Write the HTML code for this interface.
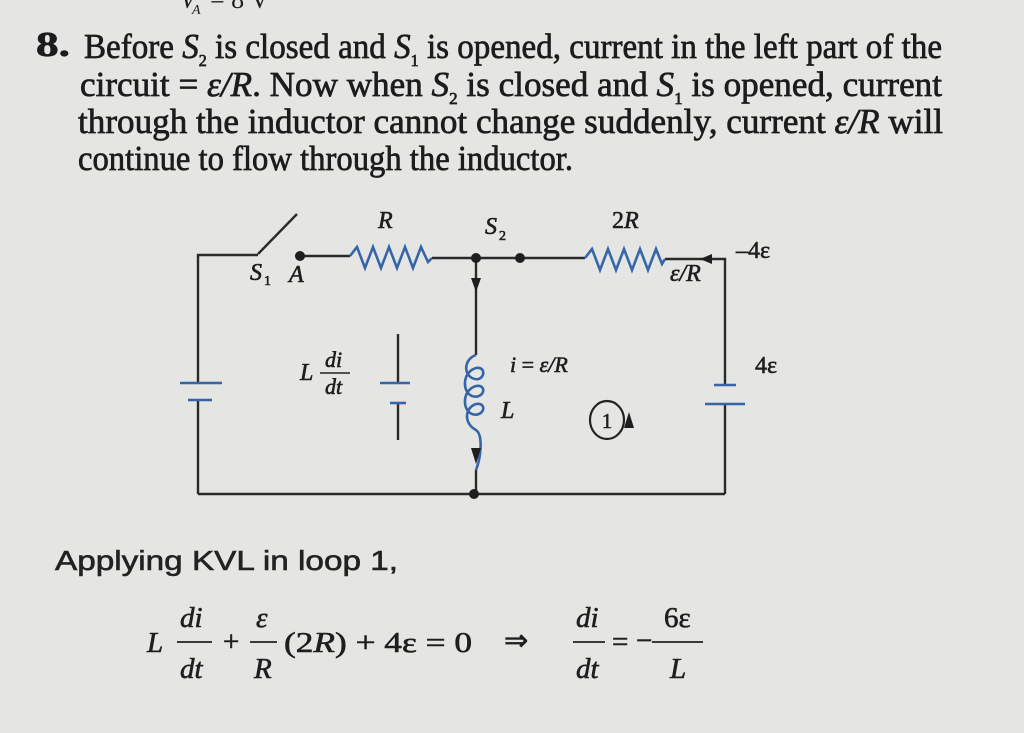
<!DOCTYPE html>
<html><head><meta charset="utf-8"><style>
html,body{margin:0;padding:0;background:#e5e5e3;}
svg{display:block}
</style></head><body>
<svg width="1024" height="733" viewBox="0 0 1024 733" xmlns="http://www.w3.org/2000/svg" font-family="Liberation Serif, serif" fill="#1e1e1e">
<rect width="1024" height="733" fill="#e5e5e3"/>
<!-- cut-off top line -->
<text x="180" y="8" font-size="26" font-style="italic">V</text>
<text x="192" y="14" font-size="14" font-style="italic">A</text>
<text x="210" y="8" font-size="26">= 8 V</text>
<!-- paragraph -->
<g font-size="35" fill="#1c1c1c" stroke="#1c1c1c" stroke-width="0.7">
<text x="36" y="56" textLength="34" lengthAdjust="spacingAndGlyphs" font-weight="bold">8.</text>
<text x="84" y="58" textLength="858" lengthAdjust="spacingAndGlyphs">Before <tspan font-style="italic">S</tspan><tspan font-size="17" dy="8">2</tspan><tspan dy="-8"> is closed and </tspan><tspan font-style="italic">S</tspan><tspan font-size="17" dy="8">1</tspan><tspan dy="-8"> is opened, current in the left part of the</tspan></text>
<text x="80" y="96" textLength="862" lengthAdjust="spacingAndGlyphs">circuit = <tspan font-style="italic">ε/R</tspan>. Now when <tspan font-style="italic">S</tspan><tspan font-size="17" dy="8">2</tspan><tspan dy="-8"> is closed and </tspan><tspan font-style="italic">S</tspan><tspan font-size="17" dy="8">1</tspan><tspan dy="-8"> is opened, current</tspan></text>
<text x="78" y="133" textLength="865" lengthAdjust="spacingAndGlyphs">through the inductor cannot change suddenly, current <tspan font-style="italic">ε/R</tspan> will</text>
<text x="78" y="170" textLength="495" lengthAdjust="spacingAndGlyphs">continue to flow through the inductor.</text>
</g>
<!-- circuit wires -->
<g stroke="#2a2a2a" stroke-width="2.4" fill="none">
<polyline points="258,255 198,255 198,383"/>
<line x1="297" y1="214" x2="258" y2="254"/>
<line x1="198" y1="400" x2="198" y2="494"/>
<polyline points="300,256 350,256"/>
<polyline points="432,258 476,258 520,258 585,258"/>
<polyline points="665,259 725,259 725,384"/>
<line x1="725" y1="404" x2="725" y2="494"/>
<line x1="198" y1="494" x2="725" y2="494"/>
<line x1="476" y1="258" x2="476" y2="355"/>
<line x1="476" y1="470" x2="476" y2="494"/>
<line x1="398" y1="334" x2="398" y2="383"/>
<line x1="398" y1="403" x2="398" y2="440"/>
</g>
<!-- blue components -->
<g stroke="#3565a8" stroke-width="2.6" fill="none">
<polyline points="350,256 357,247 365,268 373,247 381,268 389,247 397,268 405,247 413,268 421,247 428,262 432,258"/>
<polyline points="585,258 592,249 600,270 608,249 616,270 624,249 632,270 640,249 648,270 656,249 662,264 665,259"/>
<path d="M476,355 C466,358 462,372 472,378 C484,384 488,366 476,368 C462,372 462,392 472,396 C484,400 488,384 476,386 C462,390 462,410 472,414 C484,418 488,402 476,404 C464,408 464,424 476,430 C484,436 480,460 476,470"/>
<line x1="180" y1="383" x2="222" y2="383"/><line x1="188" y1="400" x2="212" y2="400"/>
<line x1="380" y1="383" x2="410" y2="383"/><line x1="390" y1="403" x2="406" y2="403"/>
<line x1="714" y1="385" x2="736" y2="385"/><line x1="705" y1="404" x2="745" y2="404"/>
</g>
<!-- dots & arrows -->
<g fill="#1e1e1e">
<circle cx="300" cy="256" r="5"/><circle cx="476" cy="258" r="5"/><circle cx="520" cy="258" r="5"/><circle cx="474" cy="494" r="5"/>
<polygon points="471,278 481,278 476,292"/>
<polygon points="471,448 481,448 476,464"/>
<polygon points="700,259 712,254 712,264"/>
<polygon points="624,428 634,428 629,412"/>
</g>
<ellipse cx="607" cy="420" rx="17" ry="19" fill="none" stroke="#222" stroke-width="2.2"/>
<text x="607" y="428" font-size="21" text-anchor="middle" stroke="#222" stroke-width="0.5">1</text>
<!-- circuit labels -->
<g font-size="24" font-style="italic" fill="#1e1e1e" stroke="#1e1e1e" stroke-width="0.6">
<text x="378" y="228">R</text>
<text x="485" y="234">S</text><text x="499" y="240" font-size="14" font-style="normal">2</text>
<text x="612" y="228" font-style="normal">2<tspan font-style="italic">R</tspan></text>
<text x="736" y="258" font-style="normal">–4ε</text>
<text x="670" y="281">ε/R</text>
<text x="250" y="280">S</text><text x="264" y="285" font-size="14" font-style="normal">1</text><text x="289" y="282">A</text>
<text x="300" y="380">L</text>
<text x="325" y="367" font-size="22">di</text>
<text x="325" y="394" font-size="22">dt</text>
<text x="510" y="372" font-size="22">i <tspan font-style="normal">=</tspan> ε/R</text>
<text x="755" y="373" font-style="normal">4ε</text>
<text x="501" y="418">L</text>
</g>
<line x1="320" y1="373" x2="350" y2="373" stroke="#222" stroke-width="1.6"/>
<!-- KVL -->
<text x="55" y="570" font-family="Liberation Sans, sans-serif" font-size="28" textLength="343" lengthAdjust="spacingAndGlyphs" fill="#222" stroke="#222" stroke-width="0.6">Applying KVL in loop 1,</text>
<g font-size="29" fill="#1e1e1e" stroke="#1e1e1e" stroke-width="0.6">
<text x="147" y="652" font-style="italic">L</text>
<text x="180" y="627" font-style="italic">di</text>
<text x="180" y="678" font-style="italic">dt</text>
<text x="223" y="651">+</text>
<text x="256" y="627" font-style="italic">ε</text>
<text x="254" y="678" font-style="italic">R</text>
<text x="284" y="652" textLength="188" lengthAdjust="spacingAndGlyphs">(2<tspan font-style="italic">R</tspan>) + 4ε = 0</text>
<text x="504" y="650">⇒</text>
<text x="576" y="627" font-style="italic">di</text>
<text x="576" y="678" font-style="italic">dt</text>
<text x="612" y="651">=</text>
<text x="636" y="650">−</text>
<text x="664" y="627">6ε</text>
<text x="670" y="678" font-style="italic">L</text>
</g>
<g stroke="#222" stroke-width="1.8">
<line x1="177" y1="642" x2="212" y2="642"/>
<line x1="250" y1="642" x2="277" y2="642"/>
<line x1="573" y1="642" x2="605" y2="642"/>
<line x1="652" y1="642" x2="703" y2="642"/>
</g>
</svg>
</body></html>
